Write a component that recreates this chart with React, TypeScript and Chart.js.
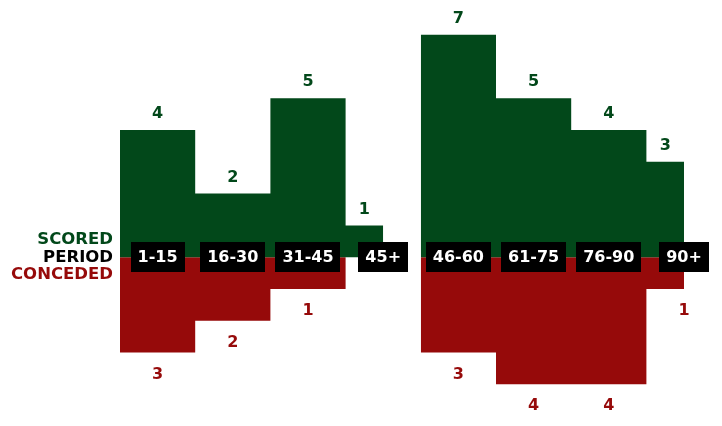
import React, { useEffect, useRef } from "react";
import { Chart, registerables } from "chart.js";

Chart.register(...registerables);

// Periods of the match (labels), their span on the minute axis, and goals
const periods = ["1-15", "16-30", "31-45", "45+", "46-60", "61-75", "76-90", "90+"];
const periodStart = [0, 15, 30, 45, 60, 75, 90, 105];
const periodEnd = [15, 30, 45, 52.5, 75, 90, 105, 112.5];
const scored = [4, 2, 5, 1, 7, 5, 4, 3];
const conceded = [3, 2, 1, 0, 3, 4, 4, 1];
const sideLabels = ["SCORED", "PERIOD", "CONCEDED"];

const GREEN = "#02481a";
const RED = "#960a0a";
const FONT = "bold 16px 'DejaVu Sans', sans-serif";
const SIDE_FONT = "bold 16.5px 'DejaVu Sans', sans-serif";
const VALUE_FONT = "bold 16px 'DejaVu Sans', sans-serif";

function stepPoints(values: number[], sign: number) {
  const pts: { x: number; y: number | null }[] = [];
  for (let i = 0; i < values.length; i++) {
    pts.push({ x: periodStart[i], y: sign * values[i] });
    const next = periodStart[i + 1];
    if (next === undefined || next !== periodEnd[i]) {
      pts.push({ x: periodEnd[i], y: sign * values[i] });
      if (next !== undefined) pts.push({ x: (periodEnd[i] + next) / 2, y: null });
    }
  }
  return pts;
}

const labelPlugin = {
  id: "periodLabels",
  afterDatasetsDraw(chart: any) {
    const { ctx, scales } = chart;
    const xs = scales.x;
    const ys = scales.y;
    ctx.save();
    ctx.textAlign = "center";
    ctx.textBaseline = "middle";
    ctx.font = VALUE_FONT;
    const last = periods.length - 1;
    for (let i = 0; i < periods.length; i++) {
      const cx = xs.getPixelForValue((periodStart[i] + periodEnd[i]) / 2);
      if (scored[i] > 0) {
        ctx.fillStyle = GREEN;
        ctx.fillText(String(scored[i]), cx, ys.getPixelForValue(scored[i]) - 16);
      }
      if (conceded[i] > 0) {
        const lx = i === last ? xs.getPixelForValue(periodEnd[i]) : cx;
        ctx.fillStyle = RED;
        ctx.fillText(String(conceded[i]), lx, ys.getPixelForValue(-conceded[i]) + 22);
      }
    }
    // period boxes on the zero line
    const zeroY = ys.getPixelForValue(0);
    ctx.font = FONT;
    for (let i = 0; i < periods.length; i++) {
      const cx = xs.getPixelForValue(periodStart[i] + 7.5);
      const w = ctx.measureText(periods[i]).width + 14;
      const h = 30;
      ctx.fillStyle = "#000";
      ctx.fillRect(Math.round(cx - w / 2), Math.round(zeroY - h / 2), Math.round(w), h);
      ctx.fillStyle = "#fff";
      ctx.fillText(periods[i], cx, zeroY + 1);
    }
    // side legend
    ctx.textAlign = "right";
    ctx.font = SIDE_FONT;
    const colors = [GREEN, "#000", RED];
    const rightX = xs.left - 7;
    sideLabels.forEach((t, k) => {
      ctx.fillStyle = colors[k];
      ctx.fillText(t, rightX, zeroY - 17 + k * 17.5);
    });
    ctx.restore();
  },
};

export default function App() {
  const ref = useRef<HTMLCanvasElement | null>(null);
  useEffect(() => {
    document.body.style.margin = "0";
    const canvas = ref.current!;
    const chart = new Chart(canvas, {
      type: "line",
      data: {
        datasets: [
          {
            label: "Scored",
            data: stepPoints(scored, 1) as any,
            stepped: true,
            fill: "origin",
            backgroundColor: GREEN,
            borderColor: GREEN,
            borderWidth: 0,
            pointRadius: 0,
            spanGaps: false,
          },
          {
            label: "Conceded",
            data: stepPoints(conceded, -1) as any,
            stepped: true,
            fill: "origin",
            backgroundColor: RED,
            borderColor: RED,
            borderWidth: 0,
            pointRadius: 0,
            spanGaps: false,
          },
        ],
      },
      options: {
        responsive: false,
        animation: false,
        layout: { padding: { left: 120, right: 38, top: 3, bottom: 10 } },
        plugins: { legend: { display: false }, tooltip: { enabled: false } },
        scales: {
          x: { type: "linear", min: 0, max: 112.5, display: false },
          y: { type: "linear", min: -5, max: 8, display: false },
        },
      },
      plugins: [labelPlugin],
    });
    return () => chart.destroy();
  }, []);
  return (
    <div style={{ position: "absolute", left: 0, top: 0, width: 722, height: 426 }}>
      <canvas ref={ref} width={722} height={426} />
    </div>
  );
}
